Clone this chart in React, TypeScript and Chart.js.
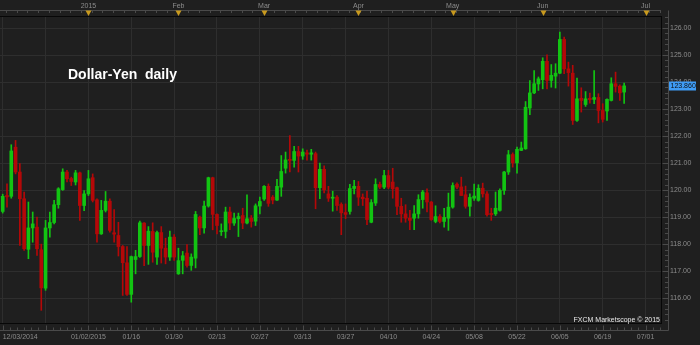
import React, { useEffect, useRef } from 'react';
import { Chart, registerables } from 'chart.js';

Chart.register(...registerables);

// ---------- data (USD/JPY daily, 12/03/2014 – 06/26/2015) ----------
const opens = [119.21,119.80,119.77,121.59,120.67,119.68,117.81,118.60,118.63,117.79,
116.37,118.60,118.80,119.46,120.02,120.67,120.43,120.30,120.64,119.43,
119.86,120.46,119.64,118.38,119.25,119.59,118.42,118.32,117.91,117.31,
116.14,117.43,117.54,118.78,117.95,118.47,117.52,118.43,117.85,117.52,
118.26,116.90,117.40,117.67,117.21,117.48,119.00,118.60,119.41,120.46,
119.10,118.46,118.47,119.19,118.78,118.94,119.06,118.78,118.96,118.85,
119.41,119.67,120.14,119.74,119.63,120.11,120.81,121.14,121.10,121.43,
121.26,121.38,121.33,121.35,120.09,120.77,119.86,119.70,119.74,119.47,
119.17,119.21,120.06,120.14,119.74,119.70,118.81,119.52,120.21,120.11,
120.54,120.30,120.09,119.40,119.12,118.96,118.96,119.12,119.65,119.90,
119.56,118.84,119.02,118.84,118.96,119.37,120.22,120.12,119.83,119.40,
119.70,119.62,120.07,119.86,119.14,119.12,119.25,119.99,120.67,121.32,
121.01,121.47,121.53,123.04,123.60,123.93,124.09,124.77,124.06,124.22,
124.33,125.58,124.49,124.33,122.58,123.40,123.17,123.40,123.36,123.43,
122.95,122.93,123.32,123.94,123.85,123.63];

const highs = [119.85,120.23,121.68,121.84,120.98,119.93,119.56,119.19,119.00,118.00,
118.88,119.19,119.62,120.09,120.79,120.73,120.48,120.73,120.67,119.98,
120.73,120.60,119.68,119.62,119.95,119.68,119.28,118.81,117.95,117.91,
117.56,117.77,118.85,118.80,118.65,118.79,118.48,118.65,118.22,118.48,
118.35,117.85,117.73,117.98,117.64,119.21,119.04,119.59,120.48,120.48,
119.12,118.75,119.37,119.37,119.15,119.15,119.33,119.83,119.06,119.49,
119.74,120.17,120.23,119.80,120.40,121.28,121.41,122.02,121.62,121.62,
121.53,121.48,121.51,121.41,121.00,120.90,120.14,119.96,119.80,119.53,
119.49,120.21,120.36,120.32,119.86,119.96,119.65,120.42,120.30,120.73,
120.73,120.81,120.11,119.70,119.46,119.25,119.43,119.83,119.99,120.05,
119.58,119.42,119.09,119.33,119.89,120.27,120.27,120.48,120.15,119.86,
120.22,120.20,120.26,119.95,119.33,119.93,120.05,120.70,121.47,121.38,
121.59,121.78,123.28,124.06,124.43,124.19,124.90,125.01,124.65,124.68,
125.85,125.67,124.74,124.62,124.15,123.79,123.65,123.59,124.43,123.57,
123.20,123.38,124.16,124.37,123.90,123.96];

const lows = [119.15,119.37,119.70,120.60,117.95,117.77,117.46,118.07,117.58,115.55,
116.29,118.26,118.75,119.33,119.99,120.30,120.17,120.19,118.88,119.24,
119.80,119.56,118.07,118.36,119.19,118.44,118.07,117.56,116.10,116.10,
115.85,116.90,117.51,117.20,117.25,117.33,117.25,117.30,117.27,117.40,
117.40,116.88,116.90,117.15,117.03,117.12,118.35,118.41,119.37,118.53,
118.38,118.32,118.23,118.54,118.69,118.28,118.57,118.75,118.63,118.69,
119.12,119.62,119.40,119.49,119.62,119.77,120.63,120.67,120.85,120.67,
121.14,121.11,121.11,119.31,119.68,119.90,119.58,119.22,119.25,118.35,
118.94,119.11,119.86,119.43,119.43,118.72,118.79,119.43,120.05,120.05,
120.05,119.70,119.09,118.81,118.81,118.54,118.54,118.96,119.33,119.19,
118.88,118.79,118.79,118.63,118.51,119.33,120.05,119.80,119.33,119.04,
119.62,119.59,119.74,119.04,118.88,119.06,119.22,119.84,120.58,120.85,
120.63,121.46,121.51,122.79,123.57,123.69,123.75,123.75,123.81,123.78,
124.31,124.31,123.85,122.43,122.54,122.89,123.10,123.22,123.20,122.49,
122.52,122.58,123.30,123.63,123.32,123.21];

const closes = [119.77,119.75,121.45,120.67,119.68,117.83,118.60,118.75,117.83,116.38,
118.60,118.80,119.46,120.05,120.67,120.42,120.32,120.64,119.43,119.86,
120.42,119.62,118.38,119.25,119.59,118.51,118.37,117.91,117.31,116.14,
117.54,117.54,118.79,117.95,118.48,117.70,118.43,117.85,117.52,118.26,
117.52,117.39,117.57,117.21,117.52,119.10,118.60,119.41,120.46,119.10,
118.69,118.49,119.19,118.78,118.95,119.02,118.78,118.94,118.84,119.42,
119.58,120.14,119.51,119.63,120.14,120.69,121.12,121.10,121.43,121.26,
121.41,121.33,121.38,120.09,120.77,120.01,119.70,119.74,119.43,119.16,
119.10,120.06,120.14,119.74,119.68,118.91,119.54,120.21,120.11,120.54,
120.11,120.05,119.40,119.12,118.96,118.88,119.12,119.65,119.93,119.56,
118.91,119.02,118.84,118.99,119.37,120.17,120.11,119.80,119.40,119.73,
119.78,120.07,119.86,119.09,119.09,119.33,119.99,120.67,121.31,121.01,
121.51,121.56,123.07,123.60,123.94,124.12,124.77,124.06,124.25,124.33,
125.58,124.49,124.35,122.58,123.38,123.32,123.38,123.35,123.43,122.95,
122.62,123.36,123.94,123.84,123.60,123.86];

// bottom date ticks (candle index -> label)
const xTickIndex = [0, 10, 20, 30, 40, 50, 60, 70, 80, 90, 100, 110, 120, 130, 140, 150];
const xTickLabels = ['12/03/2014', '', '01/02/2015', '01/16', '01/30', '02/13', '02/27', '03/13',
  '03/27', '04/10', '04/24', '05/08', '05/22', '06/05', '06/19', '07/01'];
// top month markers
const monthIndex = [20, 41, 61, 83, 105, 126, 150];
const monthLabels = ['2015', 'Feb', 'Mar', 'Apr', 'May', 'Jun', 'Jul'];
// price ticks
const yTicks = [116, 117, 118, 119, 120, 121, 122, 123, 124, 125, 126];

const titleText = 'Dollar-Yen  daily';
const watermarkText = 'FXCM Marketscope \u00A9 2015';

// ---------- style ----------
const X_MIN = -0.63;
const X_MAX = 153.6;
const Y_MIN = 115.08;
const Y_MAX = 126.41;
const BG = '#1f1f1f';
const GRID = '#2e2e2e';
const LABEL = '#8c8c8c';
const UP = '#12c412';
const DOWN = '#b40808';
const GOLD = '#c99a1e';
const FONT = '"Liberation Sans", Arial, sans-serif';

const decor = {
  id: 'decor',
  beforeDraw(chart: any) {
    const { ctx, width, height } = chart;
    ctx.save();
    ctx.fillStyle = BG;
    ctx.fillRect(0, 0, width, height);
    ctx.restore();
  },
  afterDraw(chart: any) {
    const ctx = chart.ctx as CanvasRenderingContext2D;
    const a = chart.chartArea;
    const xs = chart.scales.x;
    const ys = chart.scales.y;
    ctx.save();

    // plot frame
    ctx.strokeStyle = '#070707';
    ctx.lineWidth = 1;
    ctx.beginPath();
    ctx.moveTo(a.left, a.top - 0.5); ctx.lineTo(a.right + 1, a.top - 0.5);
    ctx.moveTo(a.left, a.bottom + 0.5); ctx.lineTo(a.right + 1, a.bottom + 0.5);
    ctx.moveTo(a.right + 0.5, a.top); ctx.lineTo(a.right + 0.5, a.bottom);
    ctx.stroke();

    // rulers
    const rTop = a.top - 6.5;
    const rRight = a.right + 7.5;
    const rBottom = a.bottom + 7.5;
    ctx.strokeStyle = '#4a4a4a';
    ctx.beginPath();
    ctx.moveTo(a.left, rTop); ctx.lineTo(a.right, rTop);
    ctx.moveTo(rRight, rTop); ctx.lineTo(rRight, rBottom);
    ctx.moveTo(a.left, rBottom); ctx.lineTo(rRight, rBottom);
    // top ruler ticks
    for (let v = 0.77; v < xs.max; v += 2.5) {
      const x = Math.round(xs.getPixelForValue(v)) + 0.5;
      ctx.moveTo(x, rTop); ctx.lineTo(x, rTop + 2.5);
    }
    // bottom ruler ticks
    for (let v = 0; v < xs.max; v += 10 / 6) {
      const x = Math.round(xs.getPixelForValue(v)) + 0.5;
      const major = xTickIndex.some((t) => Math.abs(t - v) < 0.01);
      ctx.moveTo(x, rBottom); ctx.lineTo(x, rBottom - (major ? 5 : 3));
    }
    // right ruler ticks
    for (let k = Math.ceil(ys.min * 5); k <= Math.floor(ys.max * 5); k++) {
      const v = k / 5;
      const y = Math.round(ys.getPixelForValue(v)) + 0.5;
      const major = k % 5 === 0;
      ctx.moveTo(rRight, y); ctx.lineTo(rRight - (major ? 6 : 3.5), y);
    }
    ctx.stroke();

    // month triangles
    ctx.fillStyle = GOLD;
    monthIndex.forEach((m) => {
      const x = Math.round(xs.getPixelForValue(m)) + 0.5;
      ctx.beginPath();
      ctx.moveTo(x - 3, rTop);
      ctx.lineTo(x + 3, rTop);
      ctx.lineTo(x, rTop + 5.5);
      ctx.closePath();
      ctx.fill();
    });

    // title
    ctx.fillStyle = '#ffffff';
    ctx.font = `bold 14px ${FONT}`;
    ctx.textBaseline = 'middle';
    ctx.textAlign = 'left';
    ctx.fillText(titleText, 68, 75);

    // watermark
    ctx.font = `7px ${FONT}`;
    ctx.textAlign = 'right';
    ctx.fillStyle = '#e8e8e8';
    ctx.fillText(watermarkText, a.right - 1, a.bottom - 2.5);

    // last price tag
    const last = closes[closes.length - 1];
    const py = ys.getPixelForValue(last);
    ctx.fillStyle = '#3f9cf5';
    ctx.fillRect(rRight + 0.5, Math.round(py) - 4.5, 27, 9);
    ctx.fillStyle = '#101010';
    ctx.textAlign = 'left';
    ctx.font = `7px ${FONT}`;
    ctx.fillText(last.toFixed(3), rRight + 2, Math.round(py));

    ctx.restore();
  },
};

export default function App() {
  const ref = useRef<HTMLCanvasElement>(null);

  useEffect(() => {
    document.body.style.margin = '0';
    const canvas = ref.current;
    if (!canvas) return;
    const colors = closes.map((c, i) => (c >= opens[i] ? UP : DOWN));
    const fitX = (h: number) => (s: any) => {
      s.height = h;
      s.paddingLeft = 0;
      s.paddingRight = 0;
    };
    const chart = new Chart(canvas, {
      type: 'bar',
      data: {
        datasets: [
          {
            label: 'body',
            data: opens.map((o, i) => ({ x: i, y: [o, closes[i]] })) as any,
            backgroundColor: colors,
            barThickness: 3,
            minBarLength: 1,
            grouped: false,
            borderWidth: 0,
            order: 0,
          },
          {
            label: 'wick',
            data: lows.map((l, i) => ({ x: i, y: [l, highs[i]] })) as any,
            backgroundColor: colors,
            barThickness: 1,
            grouped: false,
            borderWidth: 0,
            order: 1,
          },
        ],
      },
      options: {
        animation: false,
        responsive: false,
        devicePixelRatio: 1,
        layout: { padding: 0 },
        plugins: { legend: { display: false }, tooltip: { enabled: false }, title: { display: false } },
        scales: {
          x: {
            type: 'linear',
            position: 'bottom',
            offset: false,
            min: X_MIN,
            max: X_MAX,
            afterBuildTicks: (s: any) => {
              s.ticks = [...xTickIndex.map((v) => ({ value: v })), { value: X_MAX }];
            },
            afterFit: fitX(22),
            grid: {
              offset: false,
              color: (c: any) => (c.tick && c.tick.value >= X_MAX ? 'rgba(0,0,0,0)' : GRID),
              drawTicks: false,
            },
            border: { display: false },
            ticks: {
              autoSkip: false,
              maxRotation: 0,
              minRotation: 0,
              align: 'inner',
              padding: 10,
              color: LABEL,
              font: { family: FONT, size: 7 },
              callback: (v: any) => {
                const k = xTickIndex.indexOf(Number(v));
                return k >= 0 ? xTickLabels[k] : '';
              },
            },
          },
          xt: {
            type: 'linear',
            position: 'top',
            offset: false,
            min: X_MIN,
            max: X_MAX,
            afterBuildTicks: (s: any) => { s.ticks = monthIndex.map((v) => ({ value: v })); },
            afterFit: fitX(17),
            grid: { display: false, drawTicks: false, offset: false },
            border: { display: false },
            ticks: {
              autoSkip: false,
              maxRotation: 0,
              minRotation: 0,
              padding: 7,
              color: LABEL,
              font: { family: FONT, size: 7 },
              callback: (v: any) => {
                const k = monthIndex.indexOf(Number(v));
                return k >= 0 ? monthLabels[k] : '';
              },
            },
          },
          y: {
            type: 'linear',
            position: 'right',
            min: Y_MIN,
            max: Y_MAX,
            afterBuildTicks: (s: any) => { s.ticks = yTicks.map((v) => ({ value: v })); },
            afterFit: (s: any) => { s.width = 39; s.paddingTop = 0; s.paddingBottom = 0; },
            grid: { color: GRID, drawTicks: false },
            border: { display: false },
            ticks: {
              padding: 9,
              color: LABEL,
              font: { family: FONT, size: 7 },
              callback: (v: any) => Number(v).toFixed(2),
            },
          },
        },
      } as any,
      plugins: [decor],
    });
    return () => chart.destroy();
  }, []);

  return (
    <div style={{ width: 700, height: 345, background: BG }}>
      <canvas ref={ref} width={700} height={345} style={{ display: 'block' }} />
    </div>
  );
}
